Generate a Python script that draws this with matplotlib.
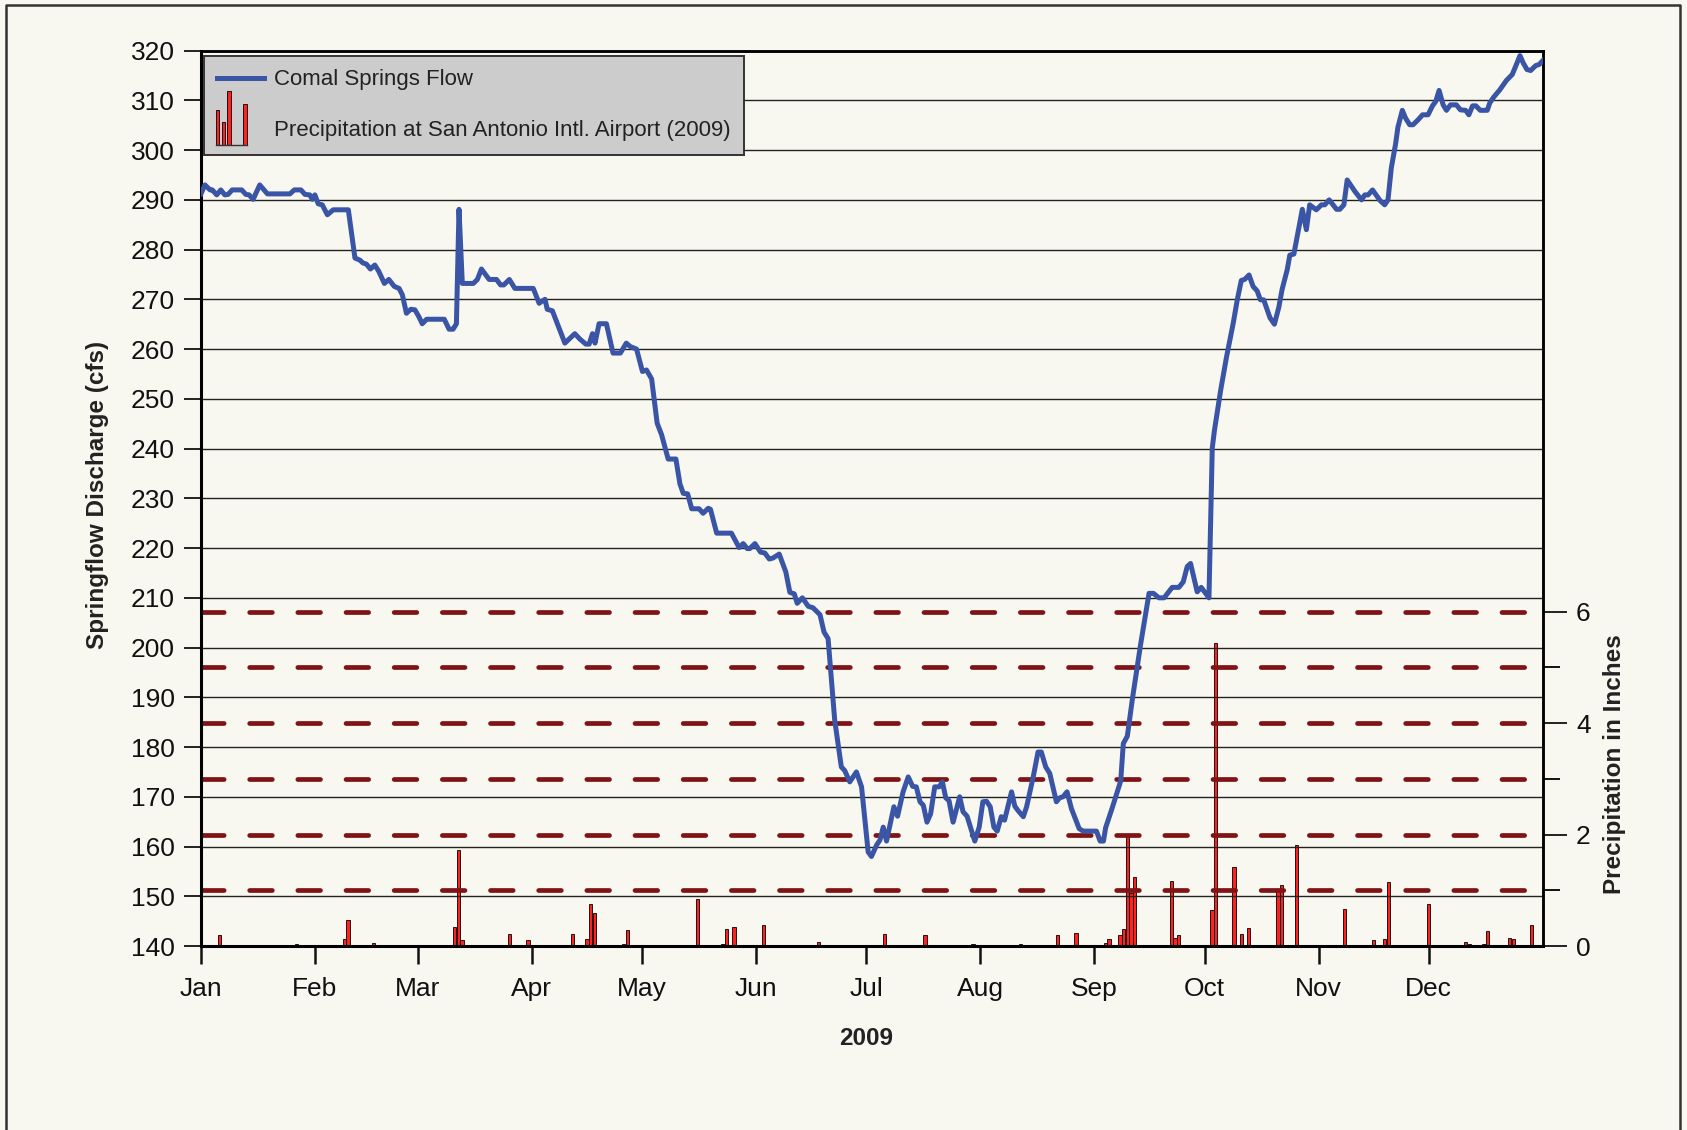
import matplotlib.pyplot as plt
from matplotlib.lines import Line2D
from matplotlib.patches import Rectangle
from matplotlib.legend_handler import HandlerBase
from matplotlib.container import BarContainer

plt.rcParams['font.family'] = ['Liberation Sans', 'DejaVu Sans']

# --- data (day of year 2009, Jan 1 = 0) ---
months = ['Jan', 'Feb', 'Mar', 'Apr', 'May', 'Jun', 'Jul', 'Aug', 'Sep', 'Oct', 'Nov', 'Dec']
month_start = [0, 31, 59, 90, 120, 151, 181, 212, 243, 273, 304, 334]

flow_day = [0, 1.1, 2.5, 3.1, 4.3, 5.4, 6.5, 7.4, 8.5, 11.1, 12.2, 13.1, 14.2, 16.0, 18.1, 24.2,
            25.4, 27.2, 28.3, 29.6, 30.3, 31.0, 31.9, 33.0, 34.4, 36.0, 40.1, 41.9, 43.2, 44.1,
            45.0, 46.1, 47.3, 48.4, 49.9, 51.1, 52.6, 53.9, 54.8, 55.9, 57.1, 58.2, 59.3, 60.2,
            61.4, 66.2, 67.5, 68.6, 69.5, 70.2, 71.1, 74.1, 75.2, 76.3, 78.4, 80.4, 81.5, 82.4,
            83.9, 85.4, 90.4, 92.0, 92.7, 93.6, 94.2, 95.6, 99.0, 101.7, 103.1, 104.7, 105.6,
            106.5, 107.2, 108.3, 110.3, 112.1, 114.1, 115.7, 116.8, 118.5, 120.1, 121.2, 122.6,
            124.1, 125.3, 127.1, 129.2, 130.3, 131.2, 132.4, 133.5, 135.5, 136.6, 138.0, 138.6,
            140.3, 144.3, 146.4, 147.5, 148.6, 149.3, 150.7, 152.2, 153.4, 154.6, 155.6, 157.3,
            159.1, 160.2, 161.4, 162.2, 163.6, 165.2, 166.5, 168.4, 169.5, 170.6, 172.4, 174.2,
            175.1, 176.5, 178.3, 179.7, 181.5, 182.4, 183.8, 184.7, 185.6, 186.5, 188.5, 189.5,
            191.0, 192.4, 193.6, 194.6, 195.6, 196.5, 197.5, 198.5, 199.6, 200.8, 201.7, 202.6,
            203.5, 204.6, 206.4, 207.3, 208.4, 210.5, 211.7, 212.7, 213.7, 214.7, 215.7, 216.6,
            217.7, 218.6, 220.5, 221.4, 222.3, 223.7, 224.6, 226.4, 227.7, 228.6, 229.8, 230.9,
            232.7, 233.6, 234.5, 235.6, 236.8, 238.9, 240.0, 243.6, 244.6, 245.5, 246.1, 247.9,
            250.2, 250.9, 252.0, 253.4, 255.6, 257.9, 259.1, 260.6, 262.0, 264.2, 266.0, 267.2,
            268.3, 269.2, 271.0, 272.1, 274.2, 275.1, 275.7, 277.4, 279.0, 280.8, 281.9, 283.0,
            283.9, 285.1, 286.2, 287.3, 288.2, 289.1, 290.8, 292.0, 293.2, 294.1, 295.5, 296.2,
            297.3, 299.6, 300.7, 301.6, 303.4, 304.8, 305.7, 306.9, 308.9, 309.8, 310.9, 311.8,
            313.9, 315.7, 316.6, 317.5, 318.7, 320.7, 322.0, 322.9, 323.8, 325.0, 325.6, 326.8,
            327.7, 328.8, 329.7, 331.1, 332.3, 333.8, 335.0, 335.9, 336.8, 337.9, 338.8, 339.9,
            341.5, 342.6, 344.0, 344.9, 345.9, 346.8, 348.0, 349.9, 350.6, 351.7, 353.3, 355.1,
            356.7, 357.6, 358.8, 359.7, 360.7, 361.7, 363.1, 364.0, 365.0]
flow_cfs = [291.2, 293.0, 292.0, 292.0, 291.0, 292.0, 291.0, 291.1, 292.0, 292.0, 291.1, 291.0, 290.1,
            293.0, 291.2, 291.2, 292.0, 292.0, 291.1, 291.0, 290.1, 291.0, 289.2, 289.0, 287.0, 288.0,
            288.0, 278.3, 277.9, 277.3, 277.1, 276.1, 276.9, 275.6, 273.2, 274.0, 272.6, 272.2, 270.9,
            267.2, 268.0, 267.9, 266.5, 265.1, 266.0, 266.0, 264.0, 264.0, 265.1, 288.1, 273.2, 273.2,
            274.0, 276.1, 274.0, 274.0, 272.9, 272.9, 274.0, 272.2, 272.2, 269.2, 269.6, 270.0, 268.0,
            267.7, 261.2, 263.1, 262.0, 261.0, 261.0, 263.1, 261.2, 265.1, 265.1, 259.2, 259.2, 261.2,
            260.5, 260.0, 255.5, 255.8, 254.0, 245.1, 242.8, 237.9, 237.9, 232.9, 231.0, 230.9, 227.9,
            227.9, 227.0, 228.0, 227.8, 223.0, 223.0, 220.1, 220.9, 219.9, 219.9, 220.9, 219.2, 219.0,
            217.8, 218.0, 218.8, 215.2, 211.1, 210.8, 208.9, 210.0, 208.3, 208.0, 206.6, 203.1, 201.8,
            185.4, 176.0, 175.3, 173.0, 175.0, 172.0, 158.9, 158.0, 160.3, 161.3, 163.9, 161.1, 168.0,
            166.1, 171.0, 174.0, 172.1, 172.0, 169.0, 168.3, 164.9, 166.6, 172.0, 172.0, 173.0, 169.8,
            169.2, 164.9, 170.0, 167.0, 166.1, 161.1, 163.9, 169.0, 169.1, 168.0, 163.9, 163.1, 166.0,
            165.3, 171.0, 168.1, 167.2, 166.0, 168.0, 174.0, 179.0, 179.0, 176.0, 174.7, 169.0, 169.8,
            170.0, 171.0, 167.6, 163.6, 163.1, 163.1, 161.1, 161.1, 163.8, 167.8, 173.2, 180.7, 182.2,
            189.8, 200.6, 210.9, 210.9, 210.0, 210.0, 212.1, 212.1, 213.2, 216.3, 216.9, 211.2, 212.1,
            210.0, 240.1, 243.7, 251.8, 258.5, 265.2, 269.9, 273.8, 274.0, 274.9, 272.6, 271.7, 269.9,
            269.9, 266.3, 265.0, 268.4, 272.0, 276.0, 278.9, 279.1, 288.1, 284.0, 289.0, 288.0, 289.0,
            289.0, 290.0, 288.1, 288.1, 289.0, 294.0, 291.7, 290.0, 291.0, 291.0, 292.0, 289.9, 289.0,
            290.0, 296.4, 301.4, 304.6, 308.0, 306.4, 305.1, 305.1, 306.1, 307.1, 307.1, 308.9, 309.8,
            312.0, 309.1, 308.0, 309.1, 309.1, 308.1, 308.0, 307.1, 308.9, 308.9, 308.0, 308.0, 309.5,
            310.7, 312.1, 314.0, 315.2, 316.8, 319.0, 317.5, 316.2, 316.0, 317.0, 317.2, 318.0]

precip_day = [5, 26, 39, 40, 47, 69, 70, 71, 82, 84, 85, 89, 101, 105, 106, 107, 115, 116, 117,
              135, 142, 143, 145, 153, 168, 186, 197, 210, 211, 223, 233, 238, 246, 247, 248,
              250, 251, 252, 253, 254, 264, 265, 266, 274, 275, 276, 281, 283, 285, 293, 294,
              298, 311, 319, 322, 323, 333, 334, 340, 344, 345, 349, 350, 356, 357, 362]
precip_in = [0.20, 0.03, 0.13, 0.46, 0.05, 0.34, 1.72, 0.10, 0.01, 0.21, 0.01, 0.10, 0.22, 0.12,
             0.76, 0.60, 0.03, 0.29, 0.02, 0.84, 0.03, 0.31, 0.34, 0.38, 0.07, 0.22, 0.19, 0.03,
             0.02, 0.03, 0.19, 0.23, 0.05, 0.12, 0.02, 0.19, 0.30, 1.98, 0.96, 1.24, 1.16, 0.15,
             0.19, 0.02, 0.64, 5.43, 1.41, 0.21, 0.32, 0.98, 1.10, 1.82, 0.67, 0.11, 0.12, 1.15,
             0.01, 0.76, 0.01, 0.07, 0.03, 0.04, 0.27, 0.15, 0.13, 0.37]

precip_ref = [1, 2, 3, 4, 5, 6]

bg = '#f9f8f0'
blue = '#3a55a6'
red = '#ff2020'
darkred = '#7f1416'


class PrecipIcon(HandlerBase):
    # little bar-chart glyph used in the legend
    def create_artists(self, legend, orig_handle, xdescent, ydescent, width, height, fontsize, trans):
        x0 = -xdescent - 1
        base = -ydescent + height / 2 - 12
        arts = []
        for dx, h in zip([0, 4.3, 8.6, 19.8], [25, 17, 39, 30]):
            arts.append(Rectangle((x0 + dx, base), 2.8, h, facecolor=red,
                                  edgecolor='black', lw=0.6, transform=trans))
        arts.append(Line2D([x0, x0 + 22.6], [base, base], color='#333333', lw=1.0, transform=trans))
        return arts


fig = plt.figure(figsize=(16.87, 11.30), dpi=100, facecolor=bg)
ax = fig.add_axes([0.1191, 0.1628, 0.7954, 0.7924])
ax2 = ax.twinx()
ax.set_zorder(ax2.get_zorder() + 1)
ax.patch.set_visible(False)

# precipitation (right axis)
for v in precip_ref:
    ax2.axhline(v, color=darkred, lw=3.4, linestyle=(0, (4.8, 5.4)), dash_capstyle='round', zorder=3)
bars = ax2.bar(precip_day, precip_in, width=0.9, color=red, edgecolor='black', linewidth=0.6, zorder=2)
ax2.set_ylim(0, 16.07)
ax2.set_yticks([0, 2, 4, 6])
ax2.set_yticks([1, 3, 5], minor=True)
ax2.tick_params(axis='y', which='major', length=17, width=1.3, pad=7, labelsize=19, colors='#111111')
ax2.tick_params(axis='y', which='minor', length=12, width=1.3)

# springflow (left axis)
flow_line, = ax.plot(flow_day, flow_cfs, color=blue, lw=3.6, solid_joinstyle='round', zorder=5)
ax.set_xlim(0, 365)
ax.set_ylim(140, 320)
ax.set_yticks(range(140, 321, 10))
ax.set_xticks(month_start, months)
ax.yaxis.grid(True, color='#222222', lw=1.0)
ax.tick_params(axis='y', length=12, width=1.3, pad=7, labelsize=19, colors='#111111')
ax.tick_params(axis='x', length=13, width=1.8, pad=9, labelsize=19, colors='#111111')

for a in (ax, ax2):
    for s in a.spines.values():
        s.set_color('black')
        s.set_linewidth(1.8)
ax.spines['left'].set_linewidth(2.2)
ax.spines['bottom'].set_linewidth(2.2)

fig.text(0.0578, 0.5619, 'Springflow Discharge (cfs)', rotation=90, ha='center', va='center',
         fontsize=17.5, fontweight='bold', color='#222222')
fig.text(0.9573, 0.3239, 'Precipitation in Inches', rotation=90, ha='center', va='center',
         fontsize=17.5, fontweight='bold', color='#222222')
fig.text(0.5134, 0.0814, '2009', ha='center', va='center', fontsize=17.5, fontweight='bold', color='#222222')

leg = ax.legend([flow_line, bars],
                ['Comal Springs Flow', 'Precipitation at San Antonio Intl. Airport (2009)'],
                handler_map={BarContainer: PrecipIcon()},
                loc='upper left', bbox_to_anchor=(0.002, 0.994), borderaxespad=0,
                fontsize=16, frameon=True, fancybox=False, facecolor='#cccccc',
                edgecolor='#333333', framealpha=1, handlelength=2.1, handletextpad=0.45,
                labelspacing=1.35, borderpad=0.6)
leg.get_frame().set_linewidth(1.4)
for t in leg.get_texts():
    t.set_color('#222222')

# outer frame of the figure (bottom edge is cut off in the original)
fig.add_artist(Line2D([0.0036, 0.0036, 0.9956, 0.9956], [0, 0.9956, 0.9956, 0],
                      transform=fig.transFigure, color='#333333', lw=1.8))

fig.savefig('out.png', dpi=100, facecolor=bg)
